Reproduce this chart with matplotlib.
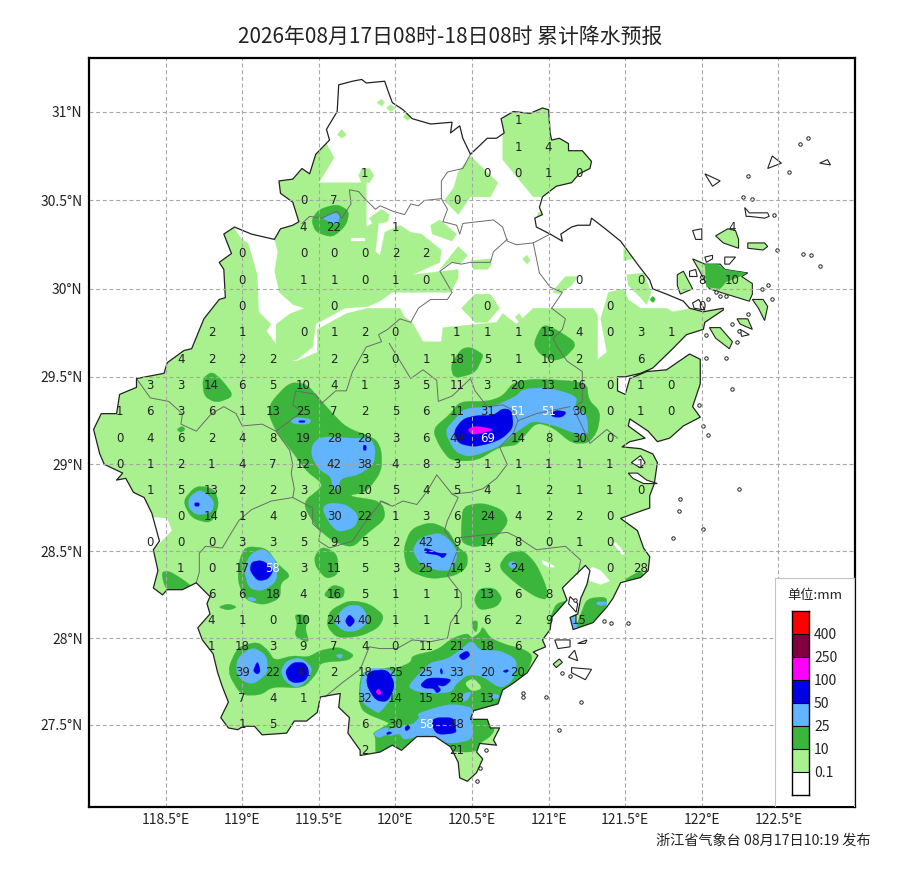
import numpy as np
import matplotlib
matplotlib.use("Agg")
import matplotlib.pyplot as plt
from matplotlib.patches import Polygon, Rectangle

plt.rcParams['font.family'] = ['Noto Sans CJK SC', 'DejaVu Sans']

TITLE = "2026年08月17日08时-18日08时 累计降水预报"
FOOTER = "浙江省气象台 08月17日10:19 发布"
LON_TICKS = [118.5, 119, 119.5, 120, 120.5, 121, 121.5, 122, 122.5]
LAT_TICKS = [27.5, 28, 28.5, 29, 29.5, 30, 30.5, 31]
LEGEND_COLORS = ['#ffffff', '#a9f18f', '#3bb53b', '#62b4ff', '#0000e6', '#ff00ff', '#800040', '#ff0000']
LEGEND_LABELS = ['0.1', '10', '25', '50', '100', '250', '400']

PROVINCE = [(119.63,31.15),(119.72,31.17),(119.78,31.18),(119.81,31.16),(119.93,31.17),(119.95,31.12),(119.98,31.05),(120.05,31.01),(120.11,30.96),(120.23,30.93),(120.37,30.94),(120.36,30.88),(120.42,30.92),(120.44,30.85),(120.49,30.76),(120.60,30.85),(120.66,30.85),(120.71,30.88),(120.69,30.96),(120.77,31.00),(120.88,30.99),(120.96,31.02),(121.00,31.01),(121.01,30.88),(121.02,30.84),(121.07,30.85),(121.13,30.82),(121.13,30.78),(121.22,30.78),(121.28,30.72),(121.27,30.68),(121.20,30.65),(121.15,30.60),(121.05,30.58),(120.96,30.52),(120.94,30.46),(120.96,30.42),(120.91,30.40),(120.92,30.35),(121.01,30.31),(121.09,30.27),(121.08,30.31),(121.15,30.35),(121.19,30.36),(121.27,30.36),(121.28,30.40),(121.37,30.34),(121.47,30.27),(121.58,30.14),(121.66,30.05),(121.68,30.00),(121.77,29.97),(121.88,29.93),(121.92,29.89),(122.01,29.87),(122.14,29.89),(122.14,29.88),(122.02,29.81),(122.01,29.77),(121.90,29.74),(121.81,29.66),(121.68,29.55),(121.60,29.52),(121.50,29.50),(121.45,29.50),(121.45,29.42),(121.50,29.40),(121.53,29.49),(121.64,29.53),(121.77,29.54),(121.92,29.63),(121.99,29.60),(121.99,29.46),(121.94,29.33),(121.99,29.27),(121.88,29.22),(121.79,29.15),(121.71,29.13),(121.65,29.19),(121.53,29.26),(121.52,29.22),(121.63,29.15),(121.53,29.13),(121.48,29.10),(121.60,29.09),(121.68,29.06),(121.71,29.01),(121.69,28.89),(121.66,28.82),(121.66,28.75),(121.53,28.71),(121.47,28.69),(121.58,28.62),(121.62,28.52),(121.66,28.47),(121.65,28.39),(121.60,28.35),(121.51,28.33),(121.47,28.32),(121.42,28.23),(121.38,28.18),(121.29,28.09),(121.16,28.05),(121.14,28.12),(121.19,28.14),(121.21,28.23),(121.25,28.31),(121.27,28.39),(121.24,28.42),(121.17,28.36),(121.09,28.29),(121.12,28.22),(121.07,28.17),(121.02,28.12),(121.01,28.05),(120.96,27.99),(120.98,27.95),(120.90,27.92),(120.93,27.90),(120.86,27.80),(120.77,27.74),(120.70,27.70),(120.67,27.62),(120.51,27.58),(120.49,27.53),(120.60,27.53),(120.62,27.48),(120.68,27.48),(120.64,27.41),(120.66,27.38),(120.55,27.39),(120.53,27.34),(120.57,27.30),(120.53,27.22),(120.47,27.17),(120.42,27.19),(120.41,27.28),(120.36,27.37),(120.26,27.43),(120.14,27.43),(120.04,27.35),(119.98,27.38),(119.90,27.34),(119.77,27.32),(119.77,27.35),(119.69,27.45),(119.70,27.54),(119.63,27.60),(119.64,27.68),(119.51,27.66),(119.49,27.57),(119.42,27.52),(119.34,27.52),(119.29,27.45),(119.13,27.44),(119.08,27.49),(119.01,27.49),(118.97,27.47),(118.91,27.48),(118.86,27.54),(118.91,27.63),(118.87,27.72),(118.84,27.80),(118.81,27.91),(118.74,27.99),(118.71,28.06),(118.79,28.14),(118.77,28.20),(118.79,28.24),(118.70,28.32),(118.61,28.28),(118.51,28.28),(118.48,28.25),(118.42,28.29),(118.45,28.39),(118.42,28.51),(118.46,28.56),(118.41,28.72),(118.36,28.81),(118.29,28.84),(118.24,28.92),(118.18,28.91),(118.22,28.95),(118.10,29.00),(118.07,29.06),(118.03,29.20),(118.08,29.29),(118.18,29.29),(118.20,29.40),(118.31,29.44),(118.31,29.49),(118.49,29.52),(118.51,29.58),(118.62,29.65),(118.67,29.66),(118.75,29.83),(118.85,29.94),(118.89,29.95),(118.88,30.11),(118.85,30.15),(118.93,30.20),(118.88,30.31),(118.95,30.35),(119.06,30.31),(119.21,30.28),(119.25,30.34),(119.33,30.36),(119.37,30.38),(119.33,30.49),(119.25,30.54),(119.24,30.61),(119.33,30.62),(119.39,30.68),(119.44,30.65),(119.48,30.76),(119.57,30.84),(119.55,30.90),(119.62,31.00)]

BORDERS = [
 [(120.49,30.76),(120.44,30.68),(120.34,30.66),(120.30,30.61),(120.30,30.51),(120.19,30.50),(120.15,30.47),(120.10,30.48),(120.06,30.42),(119.98,30.44),(119.90,30.47),(119.87,30.45),(119.80,30.51),(119.76,30.55),(119.70,30.56),(119.71,30.48),(119.65,30.40),(119.62,30.44),(119.52,30.40),(119.44,30.41),(119.39,30.37)],
 [(120.30,30.51),(120.34,30.45),(120.31,30.38),(120.40,30.36),(120.42,30.31),(120.44,30.37),(120.64,30.39),(120.70,30.35),(120.73,30.27),(120.79,30.25),(120.90,30.26),(121.01,30.31)],
 [(120.73,30.28),(120.64,30.21),(120.62,30.15),(120.49,30.15),(120.43,30.14),(120.37,30.15),(120.29,30.10),(120.37,29.98),(120.34,29.94),(120.23,29.94),(120.15,29.89),(120.10,29.81),(120.03,29.83),(119.95,29.77),(119.89,29.74),(119.91,29.70),(119.81,29.67),(119.72,29.53),(119.68,29.42),(119.61,29.42),(119.52,29.35),(119.48,29.40),(119.35,29.42),(119.33,29.34),(119.39,29.30),(119.22,29.19),(119.31,29.08),(119.33,29.00),(119.32,28.95),(119.34,28.86),(119.33,28.81),(119.46,28.75),(119.46,28.66),(119.51,28.62),(119.50,28.56),(119.57,28.52),(119.72,28.56),(119.78,28.64),(119.91,28.79),(119.96,28.77)],
 [(119.33,28.81),(119.19,28.79),(119.06,28.74),(118.98,28.68),(118.91,28.58),(118.87,28.52),(118.76,28.53),(118.72,28.49),(118.72,28.38),(118.70,28.32)],
 [(118.31,29.49),(118.40,29.38),(118.52,29.36),(118.61,29.29),(118.60,29.23),(118.70,29.19),(118.80,29.29),(118.88,29.33),(118.96,29.29),(119.00,29.22),(119.13,29.23),(119.22,29.19)],
 [(121.02,29.89),(121.09,29.98),(121.01,30.01),(120.94,30.09),(120.90,30.26)],
 [(121.02,29.89),(121.11,29.83),(121.09,29.77),(121.03,29.72),(121.05,29.68),(121.12,29.59),(121.22,29.53),(121.22,29.36),(121.16,29.32),(121.19,29.27),(121.27,29.12),(121.38,29.20),(121.45,29.15)],
 [(119.96,29.69),(120.10,29.49),(120.18,29.54),(120.27,29.48),(120.28,29.36),(120.37,29.39),(120.49,29.49),(120.52,29.42),(120.60,29.33),(120.70,29.34),(120.77,29.31),(120.80,29.25),(120.92,29.29),(121.14,29.33)],
 [(120.80,29.25),(120.77,29.18),(120.68,29.10),(120.73,29.00),(120.66,28.92),(120.57,28.86),(120.49,28.84),(120.37,28.83),(120.27,28.94),(120.21,28.85),(120.14,28.77),(120.05,28.79),(119.98,28.76),(119.90,28.79)],
 [(120.37,28.83),(120.41,28.81),(120.34,28.68),(120.32,28.62),(120.41,28.52),(120.34,28.36),(120.43,28.26),(120.43,28.18),(120.36,28.09),(120.34,28.00),(120.23,27.98),(120.11,27.99),(120.01,27.94),(119.90,27.94),(119.83,27.95),(119.77,27.82),(119.65,27.74),(119.54,27.66)],
 [(120.42,28.58),(120.73,28.61),(120.80,28.58),(120.92,28.51),(121.11,28.53),(121.21,28.45),(121.19,28.37)],
]

RAIN_01 = [
 [(118.40,30.49),(119.18,30.67),(119.48,30.78),(119.55,30.82),(119.60,30.74),(119.50,30.60),(119.81,30.60),(119.81,30.35),(119.85,30.37),(119.83,30.40),(119.91,30.45),(119.96,30.42),(119.95,30.38),(119.89,30.37),(119.87,30.21),(119.90,30.19),(119.93,30.32),(120.03,30.36),(120.10,30.32),(120.17,30.31),(120.30,30.22),(120.29,30.15),(120.11,30.08),(120.41,30.11),(120.41,30.06),(120.36,29.98),(119.98,29.98),(119.90,29.93),(119.82,29.90),(119.67,29.89),(119.48,29.80),(119.46,29.67),(119.36,29.60),(118.40,29.36)],
 [(117.94,29.64),(119.36,29.59),(119.49,29.64),(119.49,29.77),(119.68,29.86),(119.82,29.89),(120.03,29.89),(120.06,29.84),(120.11,29.81),(120.18,29.70),(120.30,29.70),(120.31,29.78),(120.66,29.81),(120.70,29.86),(120.79,29.80),(120.90,29.89),(121.29,29.89),(121.32,29.85),(121.32,29.60),(121.38,29.64),(121.34,29.83),(121.36,29.89),(121.39,29.98),(121.49,30.00),(121.52,29.94),(121.60,29.89),(121.77,29.89),(121.81,29.87),(122.18,29.93),(122.18,27.07),(117.94,27.07)],
 [(120.49,30.75),(120.67,30.60),(120.62,30.52),(120.49,30.52),(120.41,30.42),(120.32,30.50),(120.38,30.57),(120.41,30.66)],
 [(120.70,31.06),(120.70,30.73),(120.90,30.52),(121.34,30.52),(121.34,31.06)],
 [(120.23,30.36),(120.29,30.39),(120.40,30.31),(120.37,30.27),(120.24,30.31)],
 [(120.29,30.11),(120.41,30.24),(120.47,30.19),(120.42,30.14),(120.36,30.15)],
 [(120.49,30.16),(120.62,30.17),(120.63,30.14),(120.60,30.11),(120.51,30.11)],
 [(120.83,30.17),(120.86,30.19),(120.88,30.16),(120.86,30.14)],
 [(120.43,29.89),(120.52,29.97),(120.62,29.97),(120.68,29.89),(120.60,29.81),(120.52,29.81)],
 [(120.78,29.84),(120.81,29.86),(120.83,29.83),(120.81,29.81)],
 [(121.51,30.08),(121.62,30.09),(121.67,29.98),(121.64,29.91),(121.60,29.95),(121.52,30.02)],
 [(121.49,30.23),(121.55,30.17),(121.49,30.16)],
 [(121.04,30.00),(121.11,30.07),(121.19,30.07),(121.15,30.02),(121.07,29.97),(121.03,29.98)],
 [(119.76,30.64),(119.78,30.68),(119.83,30.68),(119.86,30.64),(119.83,30.60),(119.78,30.60)],
 [(119.88,31.05),(119.91,31.07),(119.93,31.05),(119.91,31.03)],
 [(119.94,31.02),(119.97,31.04),(120.00,31.02),(119.97,31.00)],
 [(119.62,30.87),(119.65,30.90),(119.68,30.87),(119.65,30.85)],
 [(120.05,30.97),(120.08,31.00),(120.11,30.97),(120.08,30.95)],
 [(120.93,30.43),(120.96,30.44),(120.96,30.39),(120.92,30.39)],
]
RAIN_HOLES = [
 [(118.95,30.34),(119.21,30.28),(119.23,30.21),(119.21,30.10),(119.24,29.98),(119.33,29.91),(119.40,29.89),(119.31,29.86),(119.22,29.80),(119.22,29.69),(119.16,29.76),(119.19,29.80),(119.11,29.87),(119.10,30.08),(119.04,30.26),(119.00,30.28)],
 [(119.71,30.29),(119.80,30.29),(119.80,30.27),(119.71,30.27)],
 [(118.37,28.70),(118.51,28.69),(118.54,28.62),(118.44,28.53),(118.37,28.53)],
 [(120.96,28.45),(121.03,28.42),(121.04,28.41),(121.00,28.41),(120.96,28.43)],
 [(121.25,28.39),(121.29,28.41),(121.34,28.39),(121.40,28.33),(121.34,28.31),(121.27,28.33)],
 [(121.42,28.55),(121.44,28.55),(121.50,28.49),(121.48,28.48)],
 [(121.88,29.22),(121.96,29.21),(121.96,29.16),(121.88,29.18)],
]
RAIN_10 = [
 [(118.74,29.49),(118.80,29.53),(118.86,29.49),(118.95,29.39),(118.83,29.35),(118.75,29.39)],
 [(119.19,29.36),(119.31,29.47),(119.42,29.46),(119.50,29.38),(119.57,29.31),(119.68,29.21),(119.87,29.15),(119.91,29.08),(119.91,28.96),(119.81,28.84),(119.68,28.82),(119.91,28.79),(119.94,28.69),(119.81,28.60),(119.72,28.52),(119.59,28.56),(119.48,28.64),(119.39,28.78),(119.52,28.87),(119.51,28.90),(119.42,28.96),(119.32,29.08),(119.22,29.19),(119.17,29.29)],
 [(118.61,28.79),(118.70,28.88),(118.82,28.86),(118.85,28.77),(118.80,28.66),(118.67,28.69)],
 [(118.98,28.45),(119.02,28.53),(119.16,28.52),(119.23,28.43),(119.32,28.36),(119.25,28.32),(119.25,28.23),(119.14,28.19),(119.02,28.22),(118.97,28.33)],
 [(119.47,28.47),(119.52,28.53),(119.62,28.49),(119.63,28.37),(119.55,28.34),(119.48,28.41)],
 [(119.53,28.25),(119.59,28.31),(119.67,28.29),(119.66,28.23),(119.57,28.23)],
 [(118.47,28.38),(118.52,28.39),(118.63,28.33),(118.69,28.28),(118.61,28.27),(118.50,28.28)],
 [(118.84,28.18),(118.91,28.20),(118.97,28.18),(118.91,28.16)],
 [(119.34,28.14),(119.44,28.13),(119.41,28.06),(119.44,27.97),(119.34,28.01),(119.36,28.08)],
 [(119.55,28.07),(119.57,28.16),(119.70,28.22),(119.83,28.20),(119.93,28.13),(119.89,28.06),(119.77,28.01),(119.62,28.00)],
 [(118.90,27.81),(118.97,27.95),(119.10,27.98),(119.17,27.93),(119.21,27.87),(119.33,27.90),(119.43,27.89),(119.51,27.93),(119.63,27.95),(119.70,27.92),(119.73,27.90),(119.69,27.87),(119.51,27.86),(119.49,27.80),(119.40,27.71),(119.20,27.72),(119.12,27.67),(118.99,27.67)],
 [(119.76,27.64),(119.77,27.77),(119.80,27.81),(119.96,27.83),(120.02,27.83),(120.10,27.86),(120.11,27.90),(120.27,27.93),(120.37,28.00),(120.47,28.03),(120.50,28.00),(120.55,28.03),(120.57,28.07),(120.62,28.00),(120.73,27.96),(120.83,27.94),(120.90,27.90),(120.86,27.80),(120.77,27.74),(120.68,27.66),(120.66,27.60),(120.51,27.58),(120.49,27.53),(120.60,27.53),(120.62,27.49),(120.65,27.47),(120.62,27.43),(120.55,27.39),(120.53,27.34),(120.36,27.34),(120.26,27.41),(120.14,27.43),(120.04,27.35),(119.98,27.38),(119.90,27.34),(119.87,27.32),(119.87,27.43),(119.85,27.45),(119.95,27.50),(119.96,27.51),(119.79,27.57)],
 [(120.05,28.51),(120.10,28.63),(120.23,28.67),(120.34,28.63),(120.41,28.52),(120.47,28.49),(120.47,28.41),(120.39,28.36),(120.23,28.34),(120.08,28.39)],
 [(120.43,28.64),(120.44,28.76),(120.57,28.78),(120.70,28.74),(120.74,28.67),(120.66,28.58),(120.53,28.52),(120.43,28.55)],
 [(120.67,28.41),(120.73,28.49),(120.83,28.51),(120.92,28.43),(120.99,28.29),(120.99,28.22),(120.91,28.24),(120.78,28.32)],
 [(120.99,28.07),(121.02,28.12),(121.07,28.17),(121.13,28.22),(121.05,28.20),(121.02,28.14)],
 [(120.51,28.22),(120.55,28.29),(120.65,28.29),(120.70,28.23),(120.66,28.18),(120.55,28.16)],
 [(120.50,28.10),(120.54,28.10),(120.53,28.03),(120.50,28.06)],
 [(120.90,29.69),(120.96,29.80),(121.05,29.77),(121.19,29.69),(121.11,29.61),(121.03,29.59),(120.94,29.63)],
 [(120.36,29.57),(120.43,29.66),(120.49,29.67),(120.57,29.63),(120.57,29.61),(120.52,29.52),(120.38,29.49)],
 [(120.24,29.20),(120.36,29.29),(120.42,29.36),(120.60,29.36),(120.70,29.39),(120.77,29.47),(120.92,29.49),(121.25,29.47),(121.26,29.37),(121.34,29.30),(121.32,29.19),(121.26,29.12),(121.15,29.12),(121.03,29.21),(120.92,29.24),(120.83,29.15),(120.79,29.11),(120.68,29.10),(120.53,29.02),(120.36,29.02),(120.29,29.10)],
 [(121.50,28.34),(121.60,28.39),(121.62,28.37),(121.60,28.34),(121.50,28.33)],
 [(121.17,28.05),(121.29,28.09),(121.38,28.18),(121.38,28.24),(121.25,28.23),(121.21,28.14)],
 [(119.45,30.39),(119.50,30.45),(119.62,30.48),(119.70,30.44),(119.68,30.36),(119.59,30.29),(119.48,30.32)],
 [(121.66,29.94),(121.68,29.96),(121.70,29.94),(121.68,29.92)],
 [(118.57,29.20),(118.61,29.22),(118.63,29.20),(118.60,29.18)],
]
RAIN_PATCH_LOW = [[(120.45,27.74),(120.51,27.77),(120.57,27.71),(120.50,27.69)]]
RAIN_25 = [
 [(119.31,29.25),(119.35,29.27),(119.45,29.26),(119.44,29.23),(119.34,29.23)],
 [(119.45,29.05),(119.46,29.12),(119.52,29.16),(119.70,29.15),(119.84,29.15),(119.87,29.09),(119.86,29.00),(119.76,28.94),(119.64,28.92),(119.63,28.86),(119.59,28.86),(119.58,28.93),(119.50,28.97)],
 [(119.52,28.75),(119.57,28.78),(119.68,28.77),(119.76,28.71),(119.74,28.64),(119.63,28.61),(119.57,28.66)],
 [(118.65,28.81),(118.73,28.86),(118.82,28.79),(118.80,28.72),(118.70,28.71),(118.65,28.75)],
 [(119.01,28.41),(119.06,28.49),(119.14,28.52),(119.22,28.45),(119.23,28.33),(119.13,28.27),(119.04,28.29)],
 [(119.03,28.23),(119.06,28.24),(119.10,28.22),(119.06,28.21)],
 [(119.59,28.10),(119.68,28.19),(119.78,28.19),(119.83,28.10),(119.75,28.04),(119.66,28.04)],
 [(118.96,27.81),(118.97,27.89),(119.07,27.95),(119.16,27.90),(119.17,27.80),(119.07,27.73),(118.99,27.76)],
 [(119.25,27.81),(119.29,27.87),(119.38,27.89),(119.46,27.83),(119.43,27.76),(119.36,27.71),(119.28,27.75)],
 [(119.61,27.90),(119.64,27.91),(119.66,27.90),(119.64,27.88)],
 [(118.61,28.29),(118.66,28.29),(118.64,28.27)],
 [(120.11,28.51),(120.16,28.58),(120.29,28.61),(120.36,28.56),(120.41,28.49),(120.37,28.39),(120.27,28.39),(120.16,28.43)],
 [(120.73,28.43),(120.77,28.45),(120.79,28.41),(120.76,28.40)],
 [(120.32,29.19),(120.39,29.26),(120.45,29.32),(120.64,29.33),(120.79,29.39),(120.83,29.43),(120.99,29.44),(121.19,29.39),(121.17,29.32),(121.25,29.29),(121.26,29.16),(121.16,29.18),(121.05,29.22),(120.90,29.25),(120.83,29.21),(120.78,29.18),(120.70,29.11),(120.49,29.04),(120.39,29.07)],
 [(119.77,27.67),(119.78,27.79),(119.85,27.83),(119.96,27.82),(120.00,27.79),(120.00,27.68),(119.90,27.57),(119.88,27.57),(119.79,27.62)],
 [(120.08,27.72),(120.16,27.80),(120.23,27.86),(120.34,27.88),(120.42,27.93),(120.50,27.99),(120.55,27.93),(120.68,27.93),(120.79,27.88),(120.79,27.80),(120.75,27.74),(120.68,27.71),(120.57,27.78),(120.47,27.79),(120.39,27.73),(120.37,27.69),(120.27,27.68),(120.14,27.69)],
 [(120.44,27.68),(120.50,27.69),(120.47,27.64),(120.43,27.63)],
 [(120.63,27.68),(120.68,27.67),(120.67,27.65),(120.63,27.65)],
 [(120.14,27.56),(120.23,27.59),(120.36,27.62),(120.51,27.60),(120.49,27.53),(120.51,27.45),(120.49,27.41),(120.38,27.39),(120.27,27.40),(120.23,27.44),(120.14,27.43),(120.05,27.41),(120.03,27.45),(119.95,27.43),(119.95,27.47),(120.03,27.49),(120.11,27.50),(120.16,27.54)],
 [(119.85,27.45),(119.95,27.49),(119.96,27.45),(119.89,27.42)],
 [(121.14,28.12),(121.17,28.13),(121.19,28.05),(121.16,28.05)],
 [(121.31,28.21),(121.38,28.21),(121.38,28.19),(121.32,28.19)],
 [(119.52,30.40),(119.59,30.43),(119.64,30.42),(119.62,30.36),(119.57,30.38)],
]
RAIN_50 = [
 [(120.38,29.19),(120.44,29.26),(120.53,29.28),(120.64,29.28),(120.70,29.32),(120.76,29.31),(120.77,29.21),(120.70,29.15),(120.62,29.12),(120.51,29.10),(120.41,29.12)],
 [(121.01,29.29),(121.05,29.31),(121.12,29.30),(121.09,29.27),(121.03,29.27)],
 [(119.05,28.39),(119.06,28.44),(119.13,28.45),(119.21,28.40),(119.17,28.34),(119.10,28.33)],
 [(119.67,28.10),(119.70,28.14),(119.74,28.10),(119.70,28.06)],
 [(119.07,27.81),(119.10,27.87),(119.12,27.81),(119.10,27.79)],
 [(119.28,27.81),(119.33,27.86),(119.41,27.86),(119.44,27.80),(119.41,27.75),(119.34,27.74),(119.30,27.76)],
 [(119.81,27.73),(119.82,27.81),(119.95,27.82),(120.00,27.73),(119.95,27.63),(119.87,27.64)],
 [(120.41,27.90),(120.47,27.93),(120.49,27.90),(120.44,27.87)],
 [(120.30,27.83),(120.31,27.80),(120.30,27.79),(120.29,27.81)],
 [(120.16,27.73),(120.21,27.77),(120.31,27.77),(120.37,27.76),(120.32,27.72),(120.27,27.73),(120.30,27.70),(120.27,27.68),(120.25,27.71),(120.19,27.71)],
 [(120.70,27.81),(120.73,27.82),(120.74,27.81),(120.72,27.80)],
 [(120.23,27.51),(120.26,27.54),(120.38,27.54),(120.39,27.49),(120.40,27.45),(120.27,27.44)],
 [(120.06,27.48),(120.08,27.50),(120.10,27.48),(120.07,27.46)],
 [(119.94,27.45),(119.96,27.46),(119.98,27.45),(119.95,27.44)],
 [(118.69,28.78),(118.72,28.78),(118.72,28.76),(118.69,28.76)],
 [(119.37,29.25),(119.41,29.25),(119.41,29.24),(119.37,29.24)],
 [(119.79,29.11),(119.81,29.11),(119.81,29.08),(119.79,29.08)],
 [(120.19,28.52),(120.23,28.51),(120.28,28.49),(120.34,28.49),(120.31,28.46),(120.28,28.48),(120.19,28.49)],
]
RAIN_100 = [
 [(120.47,29.20),(120.52,29.22),(120.65,29.20),(120.57,29.18),(120.50,29.17)],
 [(119.87,27.69),(119.89,27.71),(119.91,27.68),(119.89,27.67)],
]
ISLANDS_GREEN = [
 [(121.94,30.17),(122.02,30.14),(122.12,30.14),(122.15,30.11),(122.30,30.09),(122.26,30.07),(122.33,30.03),(122.33,29.97),(122.31,29.93),(122.16,29.97),(122.05,30.00),(122.01,30.06),(121.98,30.11)],
 [(121.84,30.08),(121.88,30.10),(121.94,30.00),(121.86,29.97),(121.84,30.02)],
 [(122.09,30.30),(122.17,30.34),(122.22,30.33),(122.24,30.28),(122.24,30.23),(122.14,30.26)],
 [(122.30,30.26),(122.41,30.26),(122.43,30.24),(122.40,30.22),(122.30,30.23)],
 [(122.05,29.78),(122.12,29.78),(122.20,29.70),(122.18,29.66),(122.09,29.72)],
 [(122.23,29.83),(122.30,29.83),(122.33,29.77),(122.25,29.80)],
 [(122.33,29.94),(122.40,29.94),(122.43,29.90),(122.41,29.82),(122.37,29.89)],
 [(121.03,27.85),(121.07,27.88),(121.09,27.86),(121.05,27.83)],
]
ISLANDS_10 = [[(122.02,30.14),(122.10,30.14),(122.15,30.11),(122.29,30.09),(122.25,30.07),(122.16,30.04),(122.12,30.00),(122.03,30.01)]]
ISLANDS_WHITE = [
 [(122.28,30.46),(122.31,30.43),(122.43,30.43),(122.44,30.41),(122.41,30.40),(122.31,30.41),(122.29,30.41)],
 [(121.94,30.33),(122.00,30.34),(122.00,30.28),(121.96,30.28)],
 [(122.02,30.18),(122.07,30.19),(122.07,30.17),(122.03,30.15)],
 [(122.15,30.18),(122.22,30.18),(122.18,30.14),(122.15,30.14)],
 [(121.92,30.10),(121.96,30.11),(121.97,30.07),(121.92,30.07)],
 [(121.94,29.92),(121.98,29.94),(122.02,29.88),(121.95,29.89)],
 [(122.02,30.65),(122.12,30.61),(122.07,30.58)],
 [(122.43,30.68),(122.46,30.75),(122.52,30.71)],
 [(122.77,30.71),(122.82,30.73),(122.84,30.70)],
 [(121.54,29.01),(121.60,29.05),(121.63,29.01),(121.60,28.98)],
 [(121.52,28.95),(121.58,28.95),(121.64,28.91),(121.71,28.89),(121.62,28.89),(121.55,28.92)],
 [(122.25,29.77),(122.31,29.74),(122.26,29.73)],
 [(121.04,27.99),(121.14,27.99),(121.14,27.95),(121.06,27.94)],
 [(121.13,27.89),(121.17,27.93),(121.19,27.87)],
 [(121.15,27.83),(121.28,27.82),(121.24,27.76),(121.15,27.80)],
 [(121.14,28.24),(121.19,28.20),(121.18,28.15),(121.13,28.20)],
 [(121.19,27.97),(121.25,27.99),(121.24,27.97)],
]
ISLETS_LON = [122.57,122.69,122.64,122.30,122.27,122.33,122.47,122.49,122.66,122.71,122.77,122.46,122.43,122.39,122.30,122.24,122.20,122.23,122.03,122.03,122.16,122.20,122.12,122.04,122.09,122.16,121.98,122.04,122.01,121.09,121.14,120.83,120.83,120.98,121.21,121.07,121.36,121.41,121.52,121.17,120.59,120.55,120.53,122.24,121.86,121.85,122.01,121.81]
ISLETS_LAT = [30.66,30.85,30.82,30.64,30.52,30.51,30.42,30.22,30.20,30.19,30.13,29.94,30.02,30.00,29.86,29.76,29.80,29.70,29.74,29.61,29.61,29.43,29.96,29.94,29.98,29.96,29.34,29.17,29.22,27.80,27.78,27.68,27.66,27.66,27.63,27.47,28.10,28.09,28.09,28.22,27.35,27.25,27.17,28.86,28.80,28.73,28.63,28.58]

# forecast amounts at the stations: (lat, [(lon, mm), ...])
STATIONS = [
 (30.95, [(120.8,1)]),
 (30.80, [(120.8,1),(121.0,4)]),
 (30.65, [(119.8,1),(120.6,0),(120.8,0),(121.0,1),(121.2,0)]),
 (30.50, [(119.4,0),(119.6,7),(120.4,0)]),
 (30.35, [(119.4,4),(119.6,22),(120.0,1),(122.2,4)]),
 (30.20, [(119.0,0),(119.4,0),(119.6,0),(119.8,0),(120.0,2),(120.2,2)]),
 (30.05, [(119.0,0),(119.4,1),(119.6,1),(119.8,0),(120.0,1),(120.2,0),(121.2,0),(121.6,0),(122.0,8),(122.2,10)]),
 (29.90, [(119.0,0),(119.6,0),(120.6,0),(121.4,0),(122.0,0)]),
 (29.75, [(118.8,2),(119.0,1),(119.4,0),(119.6,1),(119.8,2),(120.0,0),(120.4,1),(120.6,1),(120.8,1),(121.0,15),(121.2,4),(121.4,0),(121.6,3),(121.8,1)]),
 (29.60, [(118.6,4),(118.8,2),(119.0,2),(119.2,2),(119.6,2),(119.8,3),(120.0,0),(120.2,1),(120.4,18),(120.6,5),(120.8,1),(121.0,10),(121.2,2),(121.6,6)]),
 (29.45, [(118.4,3),(118.6,3),(118.8,14),(119.0,6),(119.2,5),(119.4,10),(119.6,4),(119.8,1),(120.0,3),(120.2,5),(120.4,11),(120.6,3),(120.8,20),(121.0,13),(121.2,16),(121.4,0),(121.6,1),(121.8,0)]),
 (29.30, [(118.2,1),(118.4,6),(118.6,3),(118.8,6),(119.0,1),(119.2,13),(119.4,25),(119.6,7),(119.8,2),(120.0,5),(120.2,6),(120.4,11),(120.6,31),(120.8,51),(121.0,51),(121.2,30),(121.4,0),(121.6,1),(121.8,0)]),
 (29.15, [(118.2,0),(118.4,4),(118.6,6),(118.8,2),(119.0,4),(119.2,8),(119.4,19),(119.6,28),(119.8,28),(120.0,3),(120.2,6),(120.4,49),(120.6,69),(120.8,14),(121.0,8),(121.2,30),(121.4,0)]),
 (29.00, [(118.2,0),(118.4,1),(118.6,2),(118.8,1),(119.0,4),(119.2,7),(119.4,12),(119.6,42),(119.8,38),(120.0,4),(120.2,8),(120.4,3),(120.6,1),(120.8,1),(121.0,1),(121.2,1),(121.4,1),(121.6,1)]),
 (28.85, [(118.4,1),(118.6,5),(118.8,13),(119.0,2),(119.2,2),(119.4,3),(119.6,20),(119.8,10),(120.0,5),(120.2,4),(120.4,5),(120.6,4),(120.8,1),(121.0,2),(121.2,1),(121.4,1),(121.6,0)]),
 (28.70, [(118.6,0),(118.8,14),(119.0,1),(119.2,4),(119.4,9),(119.6,30),(119.8,22),(120.0,1),(120.2,3),(120.4,6),(120.6,24),(120.8,4),(121.0,2),(121.2,2),(121.4,0)]),
 (28.55, [(118.4,0),(118.6,0),(118.8,0),(119.0,3),(119.2,3),(119.4,5),(119.6,9),(119.8,5),(120.0,2),(120.2,42),(120.4,9),(120.6,14),(120.8,8),(121.0,0),(121.2,1),(121.4,0)]),
 (28.40, [(118.6,1),(118.8,0),(119.0,17),(119.2,58),(119.4,3),(119.6,11),(119.8,5),(120.0,3),(120.2,25),(120.4,14),(120.6,3),(120.8,24),(121.4,0),(121.6,28)]),
 (28.25, [(118.8,6),(119.0,6),(119.2,18),(119.4,4),(119.6,16),(119.8,5),(120.0,1),(120.2,1),(120.4,1),(120.6,13),(120.8,6),(121.0,8)]),
 (28.10, [(118.8,4),(119.0,1),(119.2,0),(119.4,10),(119.6,24),(119.8,40),(120.0,1),(120.2,1),(120.4,1),(120.6,6),(120.8,2),(121.0,9),(121.2,15)]),
 (27.95, [(118.8,1),(119.0,18),(119.2,3),(119.4,9),(119.6,7),(119.8,4),(120.0,0),(120.2,11),(120.4,21),(120.6,18),(120.8,6)]),
 (27.80, [(119.0,39),(119.2,22),(119.4,41),(119.6,2),(119.8,18),(120.0,25),(120.2,25),(120.4,33),(120.6,20),(120.8,20)]),
 (27.65, [(119.0,7),(119.2,4),(119.4,1),(119.8,32),(120.0,14),(120.2,15),(120.4,28),(120.6,13)]),
 (27.50, [(119.0,1),(119.2,5),(119.8,6),(120.0,30),(120.2,58),(120.4,48)]),
 (27.35, [(119.8,2),(120.4,21)]),
]

W, H = 900, 877
fig = plt.figure(figsize=(W/100, H/100), dpi=100, facecolor='white')
ax = fig.add_axes([89/W, 1-807/H, (855-89)/W, (807-58)/H])

def merc(lat):
    lat = np.asarray(lat, dtype=float)
    return np.degrees(np.log(np.tan(np.pi/4 + np.radians(lat)/2)))
def imerc(y):
    y = np.asarray(y, dtype=float)
    return np.degrees(2*np.arctan(np.exp(np.radians(y))) - np.pi/2)

ax.set_yscale('function', functions=(merc, imerc))
ax.set_xlim(118.0, 123.0)
ax.set_ylim(27.02, 31.30)

province = Polygon(PROVINCE, closed=True, fc='none', ec='#222222', lw=0.9, zorder=2.2, joinstyle='round')
ax.add_patch(province)

def rounded(points, passes=2):
    """Corner cutting, so that the hand-read contour vertices give round contours."""
    pts = np.asarray(points, dtype=float)
    for _ in range(passes):
        nxt = np.roll(pts, -1, axis=0)
        pts = np.column_stack([0.8*pts + 0.2*nxt, 0.2*pts + 0.8*nxt]).reshape(-1, 2)
    return pts

def fill(polys, colour, z, clip=True, smooth=False):
    for p in polys:
        xy = rounded(p) if smooth else p
        patch = Polygon(xy, closed=True, fc=colour, ec=colour, lw=0.2, zorder=z)
        ax.add_patch(patch)
        if clip:
            patch.set_clip_path(province)

fill(RAIN_01, LEGEND_COLORS[1], 1.0)
fill(RAIN_HOLES, 'white', 1.05)
fill(RAIN_10, LEGEND_COLORS[2], 1.1, smooth=True)
fill(RAIN_PATCH_LOW, LEGEND_COLORS[1], 1.15, smooth=True)
fill(RAIN_25, LEGEND_COLORS[3], 1.2, smooth=True)
fill(RAIN_50, LEGEND_COLORS[4], 1.3, smooth=True)
fill(RAIN_100, LEGEND_COLORS[5], 1.4, smooth=True)

for p in ISLANDS_GREEN:
    ax.add_patch(Polygon(p, closed=True, fc=LEGEND_COLORS[1], ec='#222222', lw=0.8, zorder=1.6))
fill(ISLANDS_10, LEGEND_COLORS[2], 1.7, clip=False)
for p in ISLANDS_WHITE:
    ax.add_patch(Polygon(p, closed=True, fc='white', ec='#222222', lw=0.8, zorder=1.6))
ax.scatter(ISLETS_LON, ISLETS_LAT, s=6, marker='o', facecolor='white', edgecolor='#222222', linewidth=0.7, zorder=1.6)

for b in BORDERS:
    xs, ys = zip(*b)
    ax.plot(xs, ys, color='#6a6a6a', lw=0.7, zorder=2.1)

for lat, row in STATIONS:
    for lon, mm in row:
        ax.text(lon, lat, str(mm), ha='center', va='center', fontsize=8.5, family='DejaVu Sans',
                color='white' if mm >= 50 else '#222222', zorder=3)

ax.set_xticks(LON_TICKS)
ax.set_xticklabels([f"{v:g}°E" for v in LON_TICKS])
ax.set_yticks(LAT_TICKS)
ax.set_yticklabels([f"{v:g}°N" for v in LAT_TICKS])
ax.minorticks_off()
ax.tick_params(length=0, labelsize=10, pad=4.5, colors='#222222')
ax.grid(True, ls=(0, (3.5, 2.5)), color='#a6a6a6', lw=0.8)
ax.set_axisbelow(False)
for s in ax.spines.values():
    s.set_linewidth(1.6)
    s.set_color('black')
    s.set_zorder(5)

fig.text(450/W, 1-37/H, TITLE, ha='center', va='center', fontsize=15, color='#222222')
fig.text(871/W, 1-841/H, FOOTER, ha='right', va='center', fontsize=10.2, color='#222222')

# legend panel
box = fig.add_axes([775/W, 1-806/H, (854-775)/W, (806-578)/H], facecolor='white')
box.set_xticks([]); box.set_yticks([])
for s in box.spines.values():
    s.set_color('#c4c4c4'); s.set_linewidth(0.8)
box.spines['bottom'].set_visible(False)

bar = fig.add_axes([792/W, 1-795/H, (809-792)/W, (795-611)/H])
bar.set_xlim(0, 1); bar.set_ylim(0, len(LEGEND_COLORS))
for i, c in enumerate(LEGEND_COLORS):
    bar.add_patch(Rectangle((0, i), 1, 1, fc=c, ec='none'))
    if i > 0:
        bar.axhline(i, color='black', lw=0.8)
bar.set_xticks([]); bar.set_yticks([])
for s in bar.spines.values():
    s.set_linewidth(1.0)

for i, lab in enumerate(LEGEND_LABELS):
    fig.text(814/W, 1-(773-23*i)/H, lab, ha='left', va='center', fontsize=10, color='#222222')
fig.text(815/W, 1-595/H, "单位:mm", ha='center', va='center', fontsize=9.5, color='#222222')

fig.savefig('out.png', dpi=100)
